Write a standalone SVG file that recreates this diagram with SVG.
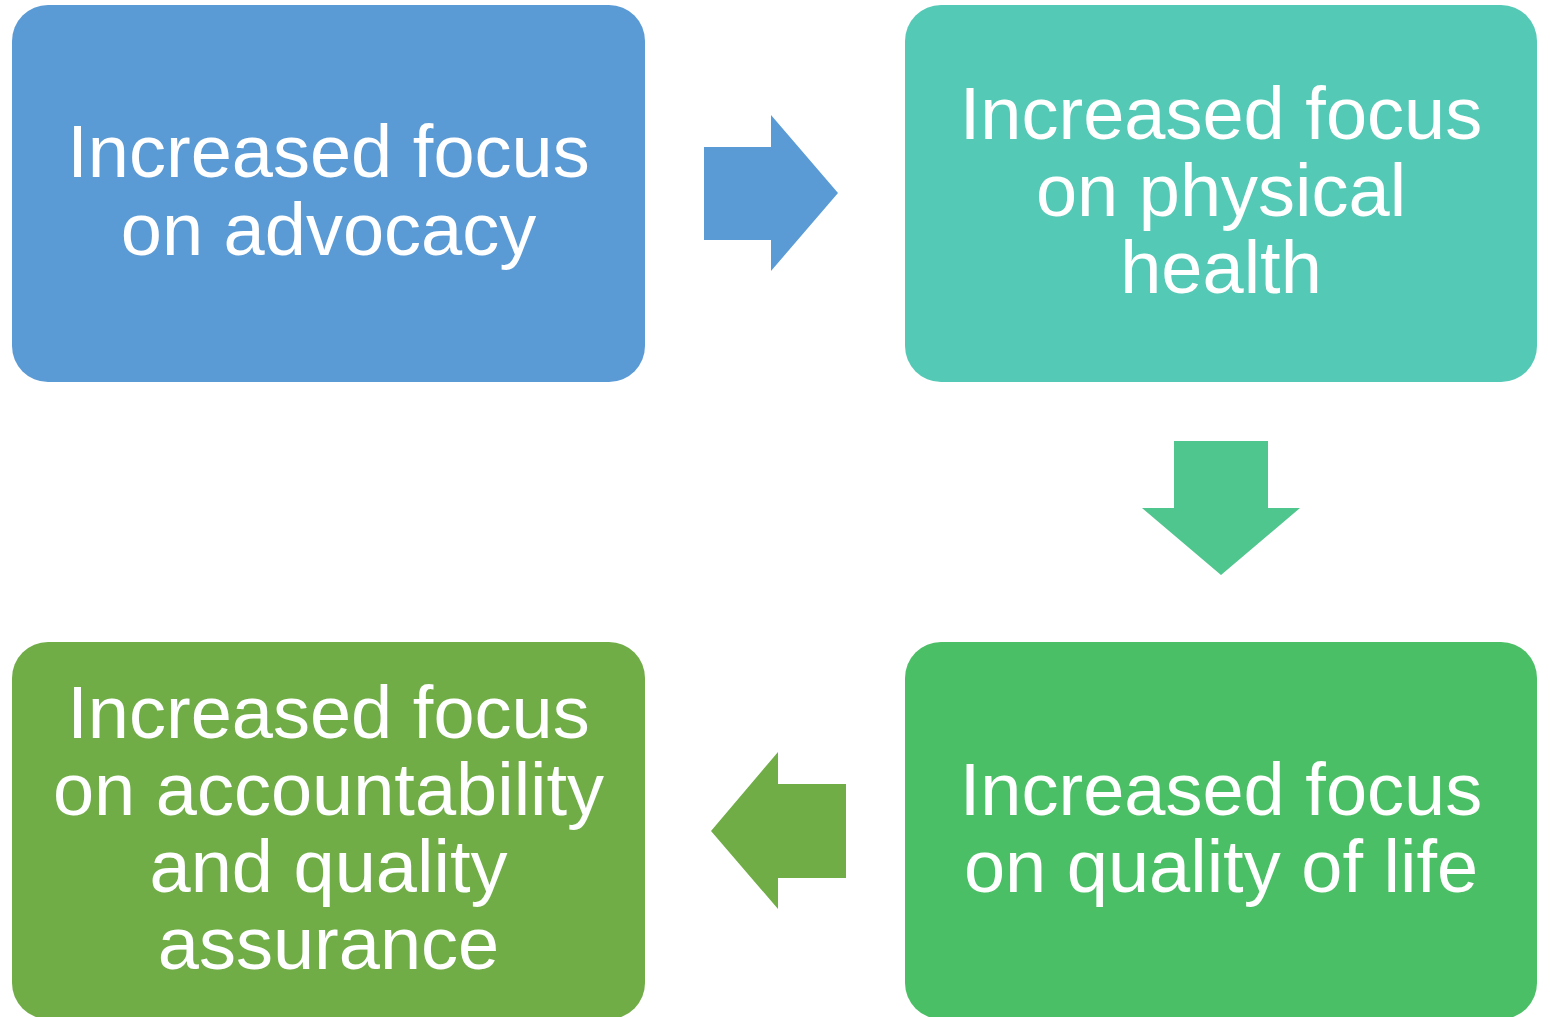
<svg xmlns="http://www.w3.org/2000/svg" width="1550" height="1017" viewBox="0 0 1550 1017">
  <style>
    .box { stroke: none; }
    .label { font-family: "Liberation Sans", Arial, sans-serif; font-size: 74px; fill: #FFFFFF; text-anchor: middle; }
  </style>
  <rect width="1550" height="1017" fill="#FFFFFF"/>

  <!-- connectors: block arrows between the steps -->
  <g id="connectors">
    <polygon points="704,147 771,147 771,115 838,193 771,271 771,240 704,240" fill="#5B9BD5"/>
    <polygon points="1174,441 1268,441 1268,508 1300,508 1221,575 1142,508 1174,508" fill="#4FC68D"/>
    <polygon points="846,784 778,784 778,752 711,831 778,909 778,878 846,878" fill="#70AD47"/>
  </g>

  <g id="advocacy">
    <rect class="box" x="12" y="5" width="633" height="377" rx="36" ry="36" fill="#5B9BD5"/>
    <text class="label" x="328.5"><tspan x="328.5" y="177">Increased focus</tspan><tspan x="328.5" y="255">on advocacy</tspan></text>
  </g>

  <g id="physical-health">
    <rect class="box" x="905" y="5" width="632" height="377" rx="36" ry="36" fill="#54C9B6"/>
    <text class="label" x="1221"><tspan x="1221" y="139">Increased focus</tspan><tspan x="1221" y="216">on physical</tspan><tspan x="1221" y="293">health</tspan></text>
  </g>

  <g id="quality-of-life">
    <rect class="box" x="905" y="642" width="632" height="377" rx="36" ry="36" fill="#4BBF65"/>
    <text class="label" x="1221"><tspan x="1221" y="815">Increased focus</tspan><tspan x="1221" y="892">on quality of life</tspan></text>
  </g>

  <g id="accountability">
    <rect class="box" x="12" y="642" width="633" height="377" rx="36" ry="36" fill="#70AD47"/>
    <text class="label" x="328.5"><tspan x="328.5" y="738">Increased focus</tspan><tspan x="328.5" y="815">on accountability</tspan><tspan x="328.5" y="892">and quality</tspan><tspan x="328.5" y="969">assurance</tspan></text>
  </g>
</svg>
